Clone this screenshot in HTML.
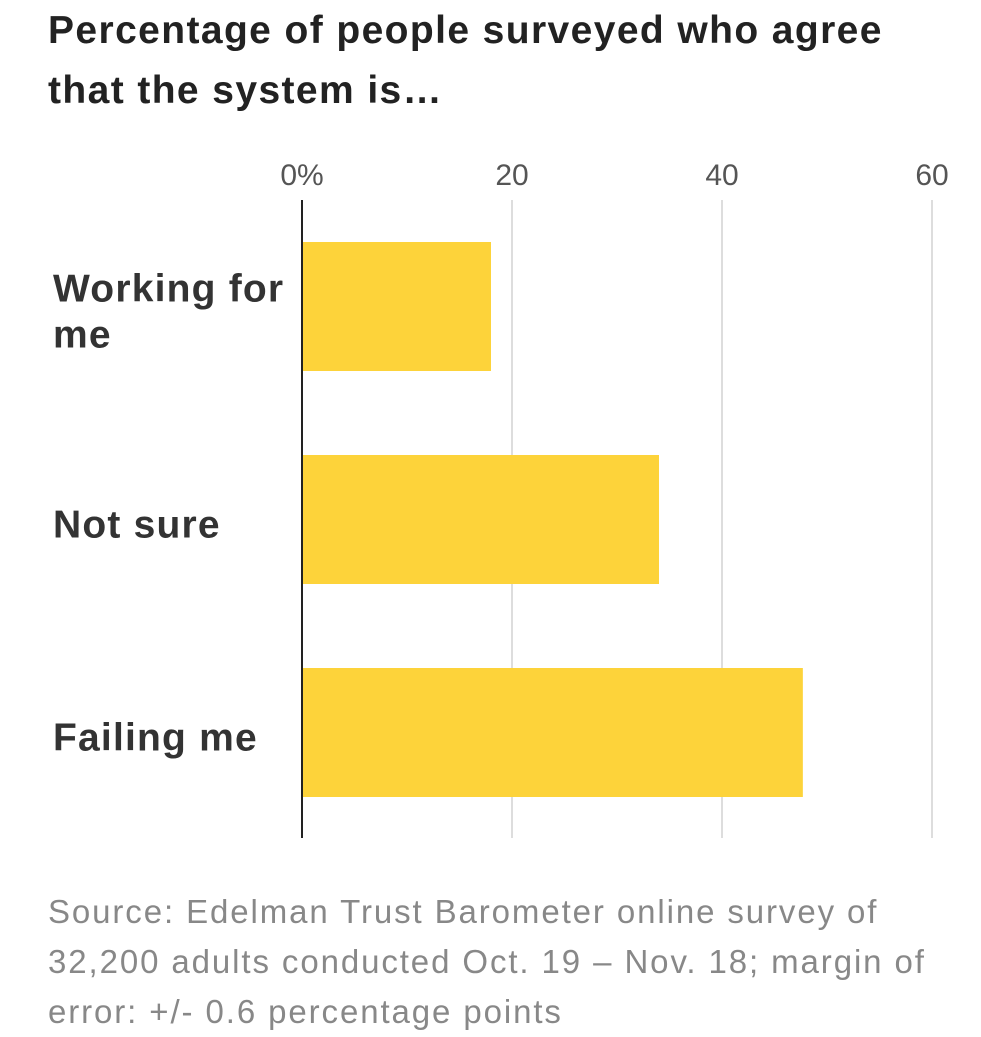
<!DOCTYPE html>
<html><head><meta charset="utf-8"><style>
html,body{margin:0;padding:0;background:#fff;width:981px;height:1024px;overflow:hidden;font-family:"Liberation Sans",sans-serif;}
.title{position:absolute;left:48px;top:1px;font-size:39px;font-weight:bold;color:#222;line-height:60px;letter-spacing:1.4px}
.src{position:absolute;left:48px;top:887px;font-size:33px;color:#888;line-height:50px;letter-spacing:1.9px}
svg{position:absolute;left:0;top:0}
</style></head><body>
<div class="title">Percentage of people surveyed who agree<br>that the system is…</div>
<svg id="chart" width="981" height="1024"></svg>
<div class="src">Source: Edelman Trust Barometer online survey of<br>32,200 adults conducted Oct. 19 – Nov. 18; margin of<br>error: +/- 0.6 percentage points</div>
<script>
const categories=["Working for|me","Not sure","Failing me"];
const values=[18,34,47.7];
const ticks=[0,20,40,60];
const tickLabels=["0%","20","40","60"];
const svg=document.getElementById('chart');
const NS="http://www.w3.org/2000/svg";
const x=v=>302+v*10.5;
const y0=242,step=213,bh=129;
function mk(t,a){const e=document.createElementNS(NS,t);for(const k in a)e.setAttribute(k,a[k]);svg.appendChild(e);return e;}
ticks.forEach((t,i)=>{
 if(i>0){const l=mk('line',{x1:x(t),x2:x(t),y1:200,y2:838,stroke:'#ddd','stroke-width':2});
 
 }
 const tx=mk('text',{x:x(t),y:185,'text-anchor':'middle','font-size':30,fill:'#555','font-family':'Liberation Sans, sans-serif'});
 tx.textContent=tickLabels[i];
 
 
});
values.forEach((v,i)=>{
 const r=mk('rect',{x:x(0),y:y0+i*step,width:x(v)-x(0),height:bh,fill:'#fdd33a'});
 
 
 const lines=categories[i].split('|');
 const cy=y0+i*step+bh/2;
 lines.forEach((ln,j)=>{
  const t=mk('text',{x:53,y:cy+18+(j-(lines.length-1)/2)*46,'font-size':39,'font-weight':'bold',fill:'#333','font-family':'Liberation Sans, sans-serif','letter-spacing':'1.2'});
  t.textContent=ln;
  
  
 });
});
const ax=mk('line',{x1:x(0),x2:x(0),y1:200,y2:838,stroke:'#222','stroke-width':2});


</script>
</body></html>
